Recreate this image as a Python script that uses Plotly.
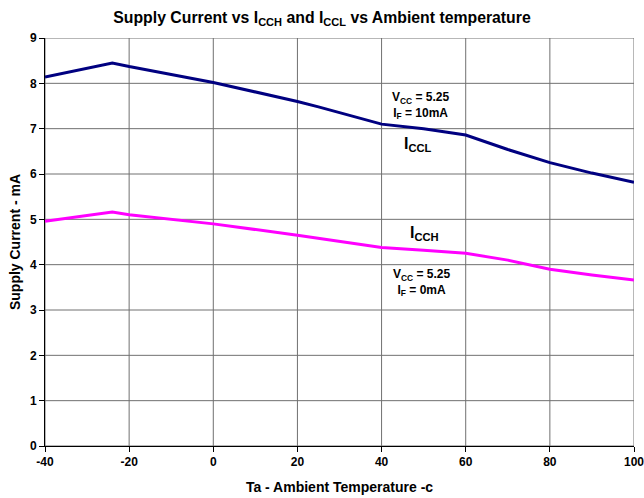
import plotly.graph_objects as go

temp_l = [-40, -24, -20, 0, 20, 25, 40, 50, 60, 70, 80, 90, 100]
iccl = [8.14, 8.45, 8.37, 8.02, 7.6, 7.48, 7.1, 7.0, 6.86, 6.54, 6.25, 6.02, 5.82]
temp_h = [-40, -24, -20, 0, 20, 40, 50, 60, 70, 80, 90, 100]
icch = [4.96, 5.16, 5.1, 4.9, 4.65, 4.38, 4.32, 4.25, 4.1, 3.9, 3.77, 3.66]
x_ticks = [-40, -20, 0, 20, 40, 60, 80, 100]
y_ticks = list(range(0, 10))

font = "Liberation Sans, Arial, sans-serif"
fig = go.Figure()

# grid built from the tick arrays
gx, gy = [], []
for xv in x_ticks:
    gx += [xv, xv, None]
    gy += [y_ticks[0], y_ticks[-1], None]
for yv in y_ticks:
    gx += [x_ticks[0], x_ticks[-1], None]
    gy += [yv, yv, None]
fig.add_trace(go.Scatter(x=gx, y=gy, mode="lines", line=dict(color="#707070", width=1),
                         hoverinfo="skip", showlegend=False))

fig.add_trace(go.Scatter(x=temp_l, y=iccl, mode="lines",
                         line=dict(color="#000080", width=3), showlegend=False))
fig.add_trace(go.Scatter(x=temp_h, y=icch, mode="lines",
                         line=dict(color="#FF00FF", width=3), showlegend=False))

small = dict(family=font, size=12, color="black")
big = dict(family=font, size=16, color="black")
fig.add_annotation(x=49.3, y=7.52, text="<b>V<sub>CC</sub> = 5.25<br>I<sub>F</sub> = 10mA</b>",
                   showarrow=False, font=small)
fig.add_annotation(x=48.7, y=6.66, text="<b>I<sub>CCL</sub></b>", showarrow=False, font=big)
fig.add_annotation(x=50.2, y=4.68, text="<b>I<sub>CCH</sub></b>", showarrow=False, font=big)
fig.add_annotation(x=49.4, y=3.60, text="<b>V<sub>CC</sub> = 5.25<br>I<sub>F</sub> = 0mA</b>",
                   showarrow=False, font=small)

axis_common = dict(
    showgrid=False, automargin=False,
    showline=True, linecolor="black", linewidth=1,
    ticks="outside", ticklen=5, tickcolor="black",
    zeroline=False, tickfont=dict(family=font, size=12, color="black"),
)
fig.update_layout(
    width=644, height=498,
    margin=dict(l=45, r=10, t=38, b=52),
    paper_bgcolor="white", plot_bgcolor="white",
    font=dict(family=font, size=12, color="black"),
    hovermode=False,
    title=dict(text="<b>Supply Current vs I<sub>CCH</sub> and I<sub>CCL</sub> vs Ambient temperature</b>",
               x=0.5, xanchor="center", y=0.965, yanchor="middle",
               font=dict(family=font, size=15.8, color="black")),
    xaxis=dict(range=[-40, 100], tickvals=x_ticks, ticktext=[f"<b>{v}</b>" for v in x_ticks],
               ticklabeloverflow="allow",
               title=dict(text="<b>Ta - Ambient Temperature -c</b>", standoff=13,
                          font=dict(family=font, size=14, color="black")),
               **axis_common),
    yaxis=dict(range=[0, 9], tickvals=y_ticks, ticktext=[f"<b>{v}</b>" for v in y_ticks],
               title=dict(text="<b>Supply Current - mA</b>", standoff=6,
                          font=dict(family=font, size=14, color="black")),
               **axis_common),
)
fig.write_html("out.html", config={"displayModeBar": False},
               post_script="document.body.style.margin='0';")
